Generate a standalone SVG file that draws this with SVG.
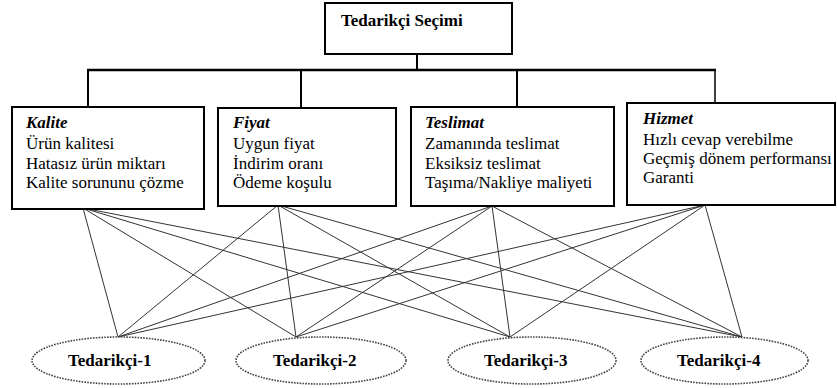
<svg xmlns="http://www.w3.org/2000/svg" width="837" height="388" viewBox="0 0 837 388">
<style>
.box{fill:#fff;stroke:#000;stroke-width:2}
.tree{stroke:#000;fill:none}
.link{stroke:#333;stroke-width:1;fill:none}
.ell{fill:#fff;stroke:#444;stroke-width:1.6;stroke-dasharray:1.6 1.2}
.t{font-family:"Liberation Serif","Times New Roman",serif;font-size:17px;fill:#000}
.h{font-weight:bold;font-style:italic}
.b{font-weight:bold}
</style>
<rect width="837" height="388" fill="#fff"/>
<g id="connectors">
<g class="tree">
<line x1="417" y1="54" x2="417" y2="70" stroke-width="2"/>
<line x1="87" y1="70" x2="716" y2="70" stroke-width="2.5"/>
<line x1="88" y1="70" x2="88" y2="107" stroke-width="2"/>
<line x1="301" y1="70" x2="301" y2="108" stroke-width="2"/>
<line x1="517" y1="70" x2="517" y2="107" stroke-width="2"/>
<line x1="715" y1="70" x2="715" y2="103" stroke-width="1.5"/>
</g>
<g class="link">
<line x1="83" y1="208" x2="118" y2="337"/>
<line x1="83" y1="208" x2="296" y2="337"/>
<line x1="83" y1="208" x2="510" y2="337"/>
<line x1="83" y1="208" x2="742" y2="337"/>
<line x1="278" y1="205" x2="118" y2="337"/>
<line x1="278" y1="205" x2="296" y2="337"/>
<line x1="278" y1="205" x2="510" y2="337"/>
<line x1="278" y1="205" x2="742" y2="337"/>
<line x1="492" y1="206" x2="118" y2="337"/>
<line x1="492" y1="206" x2="296" y2="337"/>
<line x1="492" y1="206" x2="510" y2="337"/>
<line x1="492" y1="206" x2="742" y2="337"/>
<line x1="705" y1="205" x2="118" y2="337"/>
<line x1="705" y1="205" x2="296" y2="337"/>
<line x1="705" y1="205" x2="510" y2="337"/>
<line x1="705" y1="205" x2="742" y2="337"/>
</g>
</g>
<g id="root">
<rect class="box" x="325" y="3" width="187" height="51"/>
<text class="t b" x="341" y="26">Tedarikçi Seçimi</text>
</g>
<g id="kalite">
<rect class="box" x="12" y="107" width="192" height="102"/>
<text class="t h" x="26" y="128">Kalite</text>
<text class="t" x="26" y="149">Ürün kalitesi</text>
<text class="t" x="26" y="169">Hatasız ürün miktarı</text>
<text class="t" x="26" y="188">Kalite sorununu çözme</text>
</g>
<g id="fiyat">
<rect class="box" x="218" y="108" width="178" height="98"/>
<text class="t h" x="233" y="128">Fiyat</text>
<text class="t" x="233" y="149">Uygun fiyat</text>
<text class="t" x="233" y="169">İndirim oranı</text>
<text class="t" x="233" y="188">Ödeme koşulu</text>
</g>
<g id="teslimat">
<rect class="box" x="411" y="107" width="203" height="99"/>
<text class="t h" x="425" y="128">Teslimat</text>
<text class="t" x="425" y="149">Zamanında teslimat</text>
<text class="t" x="425" y="169">Eksiksiz teslimat</text>
<text class="t" x="425" y="188">Taşıma/Nakliye maliyeti</text>
</g>
<g id="hizmet">
<rect class="box" x="627" y="103" width="208" height="102"/>
<text class="t h" x="643" y="124">Hizmet</text>
<text class="t" x="643" y="145">Hızlı cevap verebilme</text>
<text class="t" x="643" y="164">Geçmiş dönem performansı</text>
<text class="t" x="643" y="183">Garanti</text>
</g>
<g id="tedarikci1">
<ellipse class="ell" cx="118.5" cy="360.5" rx="86.5" ry="23.5"/>
<text class="t b" x="68" y="366">Tedarikçi-1</text>
</g>
<g id="tedarikci2">
<ellipse class="ell" cx="321" cy="360.5" rx="85" ry="23.5"/>
<text class="t b" x="273" y="366">Tedarikçi-2</text>
</g>
<g id="tedarikci3">
<ellipse class="ell" cx="532" cy="360.5" rx="84" ry="23.5"/>
<text class="t b" x="484" y="366">Tedarikçi-3</text>
</g>
<g id="tedarikci4">
<ellipse class="ell" cx="724.5" cy="360.5" rx="83.5" ry="23.5"/>
<text class="t b" x="677" y="366">Tedarikçi-4</text>
</g>
</svg>
